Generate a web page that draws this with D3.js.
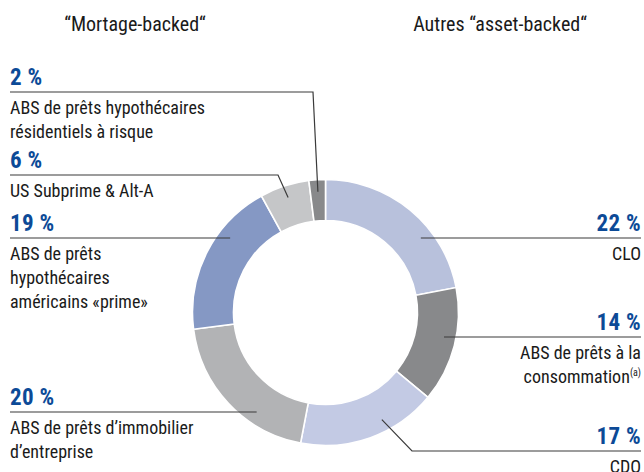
<!DOCTYPE html>
<html>
<head>
<meta charset="utf-8">
<script src="https://cdn.jsdelivr.net/npm/d3@7"></script>
<style>
	html, body { margin: 0; padding: 0; background: #fff; }
	svg { display: block; }
	text { font-family: "Liberation Sans Narrow", "Arial Narrow", "Roboto Condensed", Roboto, sans-serif; fill: #1a1a1a; }
	.pct { font-weight: bold; fill: #0c4a97; font-size: 23px; letter-spacing: 0.3px; }
	.body { font-size: 18px; }
	.head { font-size: 20px; }
	.leader { fill: none; stroke: #3a3a3a; stroke-width: 1.2; }
</style>
</head>
<body>
<div id="chart"></div>
<script>
// data, clockwise from 12 o'clock
const SEGMENTS = ["CLO", "ABS conso", "CDO", "ABS immobilier", "ABS prime", "US Subprime", "ABS risque"];
const SHARES = [22, 14, 17, 20, 19, 6, 2];
const LABELS = [
	["CLO"],
	["ABS de prêts à la", "consommation"],
	["CDO"],
	["ABS de prêts d’immobilier", "d’entreprise"],
	["ABS de prêts", "hypothécaires", "américains «prime»"],
	["US Subprime & Alt-A"],
	["ABS de prêts hypothécaires", "résidentiels à risque"],
];
const NOTES = ["", "(a)", "", "", "", "", ""];
const COLORS = ["#b8c1dc", "#88898b", "#c3cae4", "#b2b3b5", "#8598c4", "#c5c6c8", "#88898b"];
const HEADERS = ["“Mortage-backed“", "Autres “asset-backed“"];

// label placement: y of the rule under the percentage, side, optional elbow
const LAYOUT = [
	{ rule: 238, side: "right" },
	{ rule: 337, side: "right" },
	{ rule: 451, side: "right", elbow: 412, at: 0.37 },
	{ rule: 412, side: "left" },
	{ rule: 238, side: "left" },
	{ rule: 175, side: "left", elbow: 278, at: 0.5 },
	{ rule: 92, side: "left", elbow: 313, at: 0.5 },
];

const width = 644, height = 472;
const cx = 325.5, cy = 312.5;
const outer = 133, inner = 92, anchorR = 121;
const leftX = 10, rightX = 641;

let svg = d3.select("#chart")
	.append("svg")
		.attr("width", width)
		.attr("height", height)
		.attr("viewBox", `0 0 ${width} ${height}`);

svg.append("g")
	.attr("class", "headers")
	.selectAll("text")
		.data(HEADERS)
		.enter()
		.append("text")
			.attr("class", "head")
			.attr("x", (d, i) => [135, 500][i])
			.attr("y", 31)
			.attr("text-anchor", "middle")
			.text(d => d);

let pie = d3.pie()
	.sort(null)
	.value(d => d);
let arcs = pie(SHARES);

let arc = d3.arc()
	.innerRadius(inner)
	.outerRadius(outer);

let ring = svg.append("g")
	.attr("class", "ring")
	.attr("transform", `translate(${cx}, ${cy})`);
ring.selectAll("path")
	.data(arcs)
	.enter()
	.append("path")
		.attr("d", arc)
		.attr("fill", (d, i) => COLORS[i])
		.attr("stroke", "#fff")
		.attr("stroke-width", 1.6);

function polar(angle, r) {
	return [cx + r * Math.sin(angle), cy - r * Math.cos(angle)];
}

function leaderPoints(d, i) {
	let l = LAYOUT[i];
	let right = l.side == "right";
	let edge = right ? rightX : leftX;
	if (l.elbow === undefined) {
		let dy = l.rule - cy;
		let dx = Math.sqrt(anchorR * anchorR - dy * dy);
		return [[edge, l.rule], [right ? cx + dx : cx - dx, l.rule]];
	}
	let angle = d.startAngle + (d.endAngle - d.startAngle) * l.at;
	return [[edge, l.rule], [l.elbow, l.rule], polar(angle, anchorR)];
}

let labels = svg.append("g")
	.attr("class", "labels")
	.selectAll("g")
		.data(arcs)
		.enter()
		.append("g");

labels.append("path")
	.attr("class", "leader")
	.attr("d", (d, i) => d3.line()(leaderPoints(d, i)));

labels.append("text")
	.attr("class", "pct")
	.attr("x", (d, i) => LAYOUT[i].side == "right" ? rightX : leftX)
	.attr("y", (d, i) => LAYOUT[i].rule - 7)
	.attr("text-anchor", (d, i) => LAYOUT[i].side == "right" ? "end" : "start")
	.text(d => `${d.data} %`);

labels.each(function(d, i) {
	let l = LAYOUT[i];
	let right = l.side == "right";
	let lines = LABELS[i];
	lines.forEach((line, j) => {
		let text = d3.select(this).append("text")
			.attr("class", "body")
			.attr("x", right ? rightX : leftX)
			.attr("y", l.rule + 22 + j * 24)
			.attr("text-anchor", right ? "end" : "start");
		text.append("tspan").text(line);
		if (j == lines.length - 1 && NOTES[i]) {
			text.append("tspan")
				.attr("font-size", 10)
				.attr("dy", -7)
				.text(NOTES[i]);
		}
	});
});
</script>
</body>
</html>
